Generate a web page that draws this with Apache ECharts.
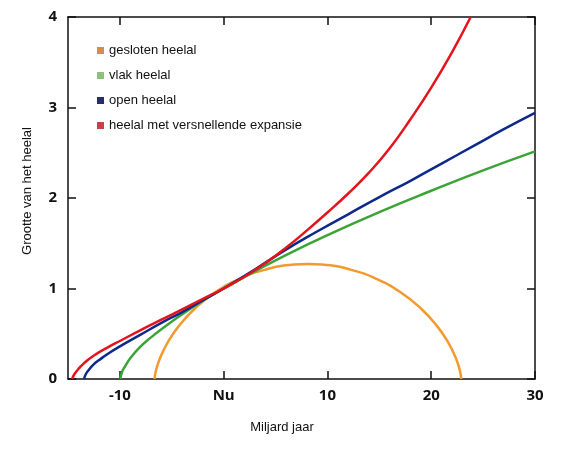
<!DOCTYPE html>
<html>
<head>
<meta charset="utf-8">
<script src="https://cdn.jsdelivr.net/npm/echarts@6/dist/echarts.min.js"></script>
<style>html,body{margin:0;padding:0;background:#fff}#c{width:570px;height:460px}</style>
</head>
<body>
<div id="c"></div>
<script>
var seriesNames = ['gesloten heelal', 'vlak heelal', 'open heelal', 'heelal met versnellende expansie'];
var xTickValues = [-10, 0, 10, 20, 30];
var xTickLabels = {'-10': '-10', '0': 'Nu', '10': '10', '20': '20', '30': '30'};
var yTickValues = [0, 1, 2, 3, 4];

var gesloten = [[-6.65,0],[-6.63,0.028],[-6.48,0.111],[-6.10,0.240],[-5.39,0.405],[-4.29,0.590],[-2.77,0.779],[-0.84,0.956],[1.46,1.103],[4.03,1.209],[6.79,1.264],[8.12,1.27],[9.45,1.264],[12.21,1.209],[14.78,1.103],[17.08,0.956],[19.01,0.779],[20.53,0.590],[21.63,0.405],[22.34,0.240],[22.72,0.111],[22.87,0.028],[22.89,0]];
var vlak = [[-9.95,0],[-9.8,0.075],[-9.5,0.14],[-9,0.23],[-8,0.36],[-7,0.46],[-6,0.55],[-4,0.715],[-2,0.865],[0,1],[3,1.19],[6,1.37],[10,1.59],[15,1.845],[20,2.08],[25,2.305],[30,2.515]];
var open = [[-13.45,0],[-13.3,0.05],[-13,0.10],[-12.5,0.165],[-12,0.21],[-11,0.29],[-10,0.36],[-8,0.49],[-6,0.62],[-4,0.74],[-2,0.87],[0,1],[3,1.21],[6,1.43],[9,1.63],[12,1.82],[15,2.01],[18,2.19],[21,2.38],[24,2.57],[27,2.76],[30,2.94]];
var versnellend = [[-14.6,0],[-14.4,0.05],[-14,0.11],[-13.5,0.17],[-12.5,0.26],[-11,0.36],[-10,0.42],[-8,0.54],[-6,0.655],[-4,0.77],[-2,0.885],[0,1],[2,1.13],[4,1.28],[6,1.45],[8,1.64],[10,1.84],[12,2.05],[14,2.28],[16,2.55],[18,2.87],[20,3.22],[22,3.61],[23.8,4.0]];

var lineColors = ['#f39a2e', '#3ca336', '#0d2a8a', '#e3141c'];
var legendColors = ['#d18f4a', '#8dc07b', '#23306a', '#c0434f'];
var datasets = [gesloten, vlak, open, versnellend];

var chart = echarts.init(document.getElementById('c'));
var axisLineStyle = {color: '#111', width: 1.5};
var labelFont = {fontFamily: 'Open Sans', fontWeight: 'bold', fontSize: 15, color: '#111'};

chart.setOption({
  animation: false,
  backgroundColor: '#fff',
  grid: {left: 68, right: 35, top: 17, bottom: 81},
  legend: {
    orient: 'vertical', left: 92, top: 39, itemWidth: 7, itemHeight: 7, itemGap: 12,
    icon: 'rect', selectedMode: false,
    textStyle: {fontFamily: 'Liberation Sans', fontSize: 13, color: '#111'},
    data: seriesNames.map(function (n, i) { return {name: n, itemStyle: {color: legendColors[i]}}; })
  },
  xAxis: [{
    type: 'value', min: -15, max: 30, position: 'bottom',
    name: 'Miljard jaar', nameLocation: 'middle', nameGap: 42,
    nameTextStyle: {fontFamily: 'Liberation Sans', fontSize: 13, color: '#111', padding: [0, 39, 0, 0]},
    axisLine: {show: true, onZero: false, lineStyle: axisLineStyle},
    axisTick: {show: true, inside: true, length: 8, customValues: xTickValues, lineStyle: axisLineStyle},
    axisLabel: Object.assign({margin: 9, customValues: xTickValues, formatter: function (v) { return xTickLabels[String(v)]; }}, labelFont),
    splitLine: {show: false}
  }, {
    type: 'value', min: -15, max: 30, position: 'top',
    axisLine: {show: true, onZero: false, lineStyle: axisLineStyle},
    axisTick: {show: true, inside: true, length: 8, customValues: xTickValues, lineStyle: axisLineStyle},
    axisLabel: {show: false},
    splitLine: {show: false}
  }],
  yAxis: [{
    type: 'value', min: 0, max: 4, interval: 1, position: 'left',
    name: 'Grootte van het heelal', nameLocation: 'middle', nameGap: 34,
    nameTextStyle: {fontFamily: 'Liberation Sans', fontSize: 13, color: '#111', padding: [0, 0, 0, 14]},
    axisLine: {show: true, onZero: false, lineStyle: axisLineStyle},
    axisTick: {show: true, inside: true, length: 8, customValues: yTickValues, lineStyle: axisLineStyle},
    axisLabel: Object.assign({margin: 11, customValues: yTickValues}, labelFont),
    splitLine: {show: false}
  }, {
    type: 'value', min: 0, max: 4, interval: 1, position: 'right',
    axisLine: {show: true, onZero: false, lineStyle: axisLineStyle},
    axisTick: {show: true, inside: true, length: 8, lineStyle: axisLineStyle},
    axisLabel: {show: false},
    splitLine: {show: false}
  }],
  series: datasets.map(function (d, i) {
    return {
      name: seriesNames[i], type: 'line', data: d, smooth: 0.5, showSymbol: false, symbol: 'none',
      color: lineColors[i], lineStyle: {width: 2.5, color: lineColors[i]}, clip: true, z: 2 + i
    };
  })
});
</script>
</body>
</html>
